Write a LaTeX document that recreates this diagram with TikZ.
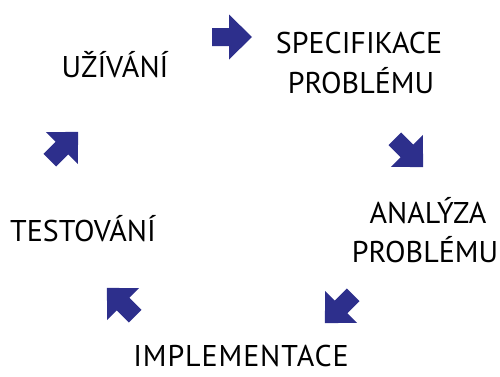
\documentclass[tikz,border=0pt]{standalone}
\usepackage{fontspec}
\setmainfont{PT Sans}
\usepackage{tikz}
\definecolor{arrowblue}{RGB}{45,47,140}
\def\blockarrow[#1](#2)(#3){\fill[#1, shift={(#2)}, rotate=#3] (-20, 9) -- (-3, 9) -- (-3, 22.5) -- (20, 0) -- (-3, -22.5) -- (-3, -9) -- (-20, -9) -- cycle;}

\begin{document}
\begin{tikzpicture}[x=1pt, y=1pt, lbl/.style={inner sep=0pt, font=\fontsize{30}{30}\selectfont}]
			%%%%% START %%%%%
			\useasboundingbox (0, 0) rectangle (500, 376);
			
			\node[lbl] (uziv) at (115, 311) {UŽÍVÁNÍ};
			\node[lbl] (spec1) at (359, 333) {SPECIFIKACE};
			\node[lbl] (spec2) at (361, 295) {PROBLÉMU};
			\node[lbl] (anal1) at (428, 165) {ANALÝZA};
			\node[lbl] (anal2) at (425, 126) {PROBLÉMU};
			\node[lbl] (test) at (83, 147) {TESTOVÁNÍ};
			\node[lbl, font=\fontsize{30}{30}\selectfont\addfontfeatures{LetterSpace=3}] (impl) at (241, 20) {IMPLEMENTACE};
			
			\blockarrow[arrowblue](232, 339)(0);
			\blockarrow[arrowblue](409, 223)(-45);
			\blockarrow[arrowblue](339, 67)(-135);
			\blockarrow[arrowblue](121, 74)(135);
			\blockarrow[arrowblue](64, 230)(45);
			
			%%%%% END %%%%%
\end{tikzpicture}
\end{document}
